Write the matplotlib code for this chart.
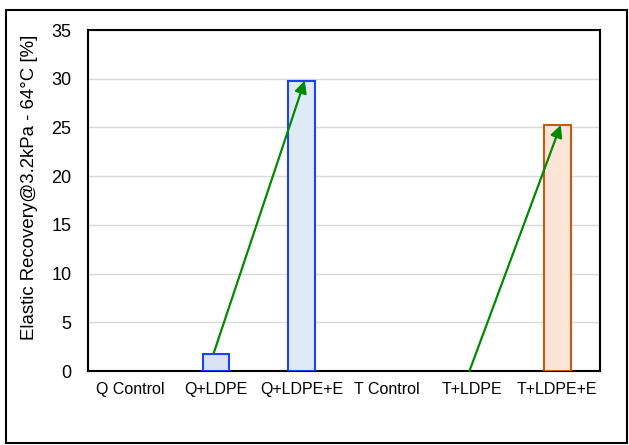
import matplotlib
matplotlib.use("Agg")
import matplotlib.pyplot as plt
from matplotlib.patches import Rectangle

plt.rcParams['font.family'] = ['Liberation Sans', 'DejaVu Sans']

categories = ["Q Control", "Q+LDPE", "Q+LDPE+E", "T Control", "T+LDPE", "T+LDPE+E"]
values = [0, 1.75, 29.8, 0, 0, 25.25]
edge_colors = ["#1f3fff", "#1f3fff", "#1f3fff", "#c55a11", "#c55a11", "#c55a11"]
face_colors = ["#dae3f3", "#dae3f3", "#deebf7", "#fbe5d6", "#fbe5d6", "#fbe5d6"]
# arrows: (start category, end category)
arrows = [(1, 2), (4, 5)]

fig = plt.figure(figsize=(6.29, 4.45), dpi=100)
ax = fig.add_axes([88 / 629, 1 - 371 / 445, 512 / 629, 341 / 445])

x = list(range(len(categories)))
for i, v in enumerate(values):
    if v > 0:
        ax.bar(i, v, width=0.31, color=face_colors[i], edgecolor=edge_colors[i],
               linewidth=1.5, zorder=3)

for s, e in arrows:
    ax.annotate("", xy=(e + 0.04, values[e]), xytext=(s - 0.03, values[s]),
                arrowprops=dict(arrowstyle="-|>", color="#008a00", lw=1.6,
                                mutation_scale=18, shrinkA=0, shrinkB=0),
                zorder=5)

ax.set_xlim(-0.5, len(categories) - 0.5)
ax.set_ylim(0, 35)
ax.set_yticks(range(0, 36, 5))
ax.set_xticks(x)
ax.set_xticklabels(categories, fontsize=11.5)
ax.tick_params(axis='y', labelsize=13, length=0, pad=12)
ax.tick_params(axis='x', length=0, pad=8)
ax.yaxis.grid(True, color="#d9d9d9", linewidth=1, zorder=0)
ax.set_axisbelow(True)
for sp in ax.spines.values():
    sp.set_color("black")
    sp.set_linewidth(1.5)
ax.set_ylabel("Elastic Recovery@3.2kPa - 64°C [%]", fontsize=13.4)
ax.yaxis.set_label_coords(-0.098, 0.538)

fig.patches.append(Rectangle((6 / 629, 2 / 445), 621 / 629, 433 / 445,
                             transform=fig.transFigure, fill=False,
                             edgecolor="black", linewidth=1.5))

fig.savefig("out.png", dpi=100)
